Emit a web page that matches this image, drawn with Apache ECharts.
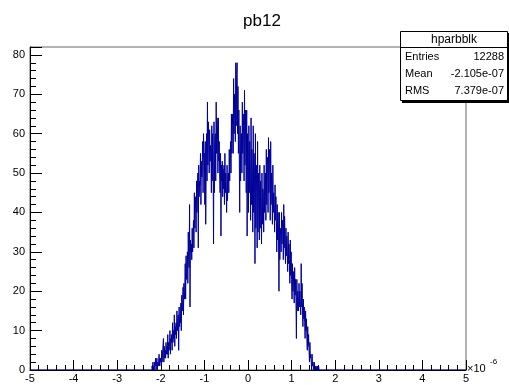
<!DOCTYPE html>
<html>
<head>
<meta charset="utf-8">
<script src="https://cdn.jsdelivr.net/npm/echarts@6/dist/echarts.min.js"></script>
<style>
  html, body { margin: 0; padding: 0; background: #fff; }
  #chart { width: 509px; height: 385px; }
</style>
</head>
<body>
<div id="chart"></div>
<script>
// histogram hparbblk, x in units of 1e-6, 1000 bins over [-5, 5]
const xRange = [-5, 5];
const xTicks = [-5, -4, -3, -2, -1, 0, 1, 2, 3, 4, 5];
const yTicks = [0, 10, 20, 30, 40, 50, 60, 70, 80];
const binWidth = 0.01;
const firstBin = -2.2; // bins below are empty
// bin contents, 5 bins per row (0.05 each)
const counts = [
  1, 0, 2, 0, 1,      // -2.20
  0, 2, 1, 3, 0,      // -2.15
  1, 3, 0, 2, 1,      // -2.10
  2, 4, 1, 3, 2,      // -2.05
  3, 1, 5, 2, 4,      // -2.00
  4, 8, 2, 6, 3,      // -1.95
  5, 3, 7, 4, 6,      // -1.90
  4, 9, 3, 7, 5,      // -1.85
  6, 10, 4, 8, 7,     // -1.80
  9, 5, 12, 7, 10,    // -1.75
  8, 14, 6, 11, 9,    // -1.70
  12, 8, 15, 10, 13,  // -1.65
  14, 5, 16, 11, 13,  // -1.60
  12, 17, 10, 19, 15, // -1.55
  16, 21, 14, 22, 18, // -1.50
  20, 27, 18, 29, 23, // -1.45
  25, 30, 22, 35, 28, // -1.40
  26, 42, 16, 33, 30, // -1.35
  32, 28, 36, 30, 34, // -1.30
  38, 31, 45, 36, 41, // -1.25
  44, 35, 48, 40, 46, // -1.20
  50, 31, 52, 44, 48, // -1.15
  47, 55, 42, 53, 49, // -1.10
  52, 58, 45, 60, 54, // -1.05
  55, 42, 58, 37, 50, // -1.00
  60, 48, 68, 52, 63, // -0.95
  58, 50, 61, 53, 57, // -0.90
  55, 45, 62, 48, 60, // -0.85
  52, 32, 63, 45, 58, // -0.80
  60, 48, 68, 55, 64, // -0.75
  62, 50, 64, 53, 58, // -0.70
  50, 45, 55, 34, 52, // -0.65
  48, 53, 44, 51, 46, // -0.60
  52, 42, 55, 45, 50, // -0.55
  46, 40, 52, 43, 49, // -0.50
  50, 45, 56, 48, 53, // -0.45
  58, 50, 65, 55, 62, // -0.40
  65, 55, 74, 60, 70, // -0.35
  70, 58, 78, 62, 75, // -0.30
  78, 60, 72, 55, 66, // -0.25
  55, 40, 62, 48, 58, // -0.20
  60, 50, 68, 55, 65, // -0.15
  62, 48, 71, 52, 66, // -0.10
  58, 45, 66, 34, 60, // -0.05
  55, 40, 62, 45, 58, //  0.00
  52, 38, 64, 42, 56, //  0.05
  50, 35, 62, 40, 55, //  0.10
  48, 27, 60, 36, 52, //  0.15
  45, 31, 58, 35, 50, //  0.20
  44, 33, 52, 36, 48, //  0.25
  42, 32, 50, 37, 46, //  0.30
  45, 35, 52, 40, 48, //  0.35
  50, 38, 56, 42, 53, //  0.40
  54, 40, 59, 45, 56, //  0.45
  52, 38, 58, 42, 50, //  0.50
  47, 37, 52, 40, 45, //  0.55
  42, 35, 47, 38, 44, //  0.60
  38, 30, 42, 33, 40, //  0.65
  35, 20, 40, 28, 36, //  0.70
  34, 30, 40, 32, 38, //  0.75
  36, 28, 42, 31, 39, //  0.80
  32, 27, 36, 29, 34, //  0.85
  30, 25, 35, 27, 32, //  0.90
  28, 22, 33, 24, 30, //  0.95
  23, 18, 27, 20, 25, //  1.00
  21, 17, 26, 19, 23, //  1.05
  18, 8, 23, 15, 20,  //  1.10
  18, 15, 22, 16, 20, //  1.15
  20, 14, 27, 16, 22, //  1.20
  15, 11, 18, 13, 16, //  1.25
  12, 8, 15, 10, 13,  //  1.30
  8, 5, 11, 6, 9,     //  1.35
  5, 2, 7, 3, 4,      //  1.40
  2, 0, 4, 1, 2,      //  1.45
  1, 0, 2, 0, 1,      //  1.50
  0, 1, 0, 0, 1,      //  1.55
  0, 0, 1, 0, 0       //  1.60
];
const statLabels = ['Entries', 'Mean', 'RMS'];
const statValues = ['12288', '-2.105e-07', '7.379e-07'];

// step points at the left edge of every bin
const histData = [[xRange[0], 0]];
counts.forEach((c, i) => {
    histData.push([+(firstBin + i * binWidth).toFixed(2), c]);
});
histData.push([+(firstBin + counts.length * binWidth).toFixed(2), 0]);
histData.push([xRange[1], 0]);

const font = 'Liberation Sans, Arial, sans-serif';

const chart = echarts.init(document.getElementById('chart'));

const statGraphics = [
    { type: 'rect', shape: { x: 402, y: 33, width: 107, height: 70 }, style: { fill: '#000' }, z: 10 },
    { type: 'rect', shape: { x: 400.5, y: 31.5, width: 107, height: 69 }, style: { fill: '#fff', stroke: '#000', lineWidth: 1 }, z: 11 },
    { type: 'line', shape: { x1: 400.5, y1: 47.5, x2: 507.5, y2: 47.5 }, style: { stroke: '#000', lineWidth: 1 }, z: 12 },
    { type: 'text', x: 454, y: 40, z: 12, style: { text: 'hparbblk', font: '12px ' + font, fill: '#000', textAlign: 'center', textVerticalAlign: 'middle' } }
];
statLabels.forEach((lab, i) => {
    const y = 57 + i * 17;
    statGraphics.push({ type: 'text', x: 405, y: y, z: 12, style: { text: lab, font: '11px ' + font, fill: '#000', textAlign: 'left', textVerticalAlign: 'middle' } });
    statGraphics.push({ type: 'text', x: 504, y: y, z: 12, style: { text: statValues[i], font: '11px ' + font, fill: '#000', textAlign: 'right', textVerticalAlign: 'middle' } });
});

const option = {
    animation: false,
    backgroundColor: '#fff',
    grid: {
        left: 30, right: 43, top: 47, bottom: 15,
        show: true, borderColor: '#666', borderWidth: 1, backgroundColor: 'transparent'
    },
    xAxis: {
        type: 'value',
        min: xTicks[0], max: xTicks[xTicks.length - 1], interval: 1,
        axisLine: { show: true, onZero: false, lineStyle: { color: '#000', width: 1 } },
        axisTick: { show: true, inside: true, length: 10, lineStyle: { color: '#000' } },
        minorTick: { show: true, splitNumber: 5, length: 5, lineStyle: { color: '#000' } },
        splitLine: { show: false },
        axisLabel: { color: '#000', fontSize: 11, fontFamily: font, margin: 3 }
    },
    yAxis: {
        type: 'value',
        min: yTicks[0], max: 82, interval: 10,
        axisLine: { show: true, onZero: false, lineStyle: { color: '#000', width: 1 } },
        axisTick: { show: true, inside: true, length: 12, lineStyle: { color: '#000' } },
        minorTick: { show: true, splitNumber: 5, length: 6, lineStyle: { color: '#000' } },
        splitLine: { show: false },
        axisLabel: {
            color: '#000', fontSize: 11, fontFamily: font, margin: 5,
            formatter: v => (yTicks.indexOf(v) >= 0 ? String(v) : '')
        }
    },
    series: [{
        type: 'line',
        step: 'end',
        data: histData,
        showSymbol: false,
        symbol: 'none',
        lineStyle: { color: '#000099', width: 1 },
        z: 3
    }],
    graphic: [
        { type: 'text', x: 262, y: 21, style: { text: 'pb12', font: '17px ' + font, fill: '#000', textAlign: 'center', textVerticalAlign: 'middle' } },
        { type: 'text', x: 467, y: 369, style: { text: '×10', font: '11px ' + font, fill: '#000', textAlign: 'left', textVerticalAlign: 'middle' } },
        { type: 'text', x: 490, y: 362, style: { text: '-6', font: '8px ' + font, fill: '#000', textAlign: 'left', textVerticalAlign: 'middle' } }
    ].concat(statGraphics)
};

chart.setOption(option);
</script>
</body>
</html>
